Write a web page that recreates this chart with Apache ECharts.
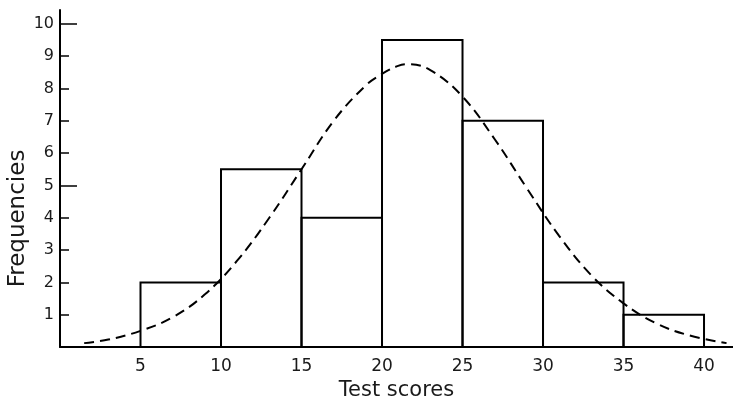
<!DOCTYPE html>
<html>
<head>
<meta charset="utf-8">
<script src="https://cdn.jsdelivr.net/npm/echarts@6/dist/echarts.min.js"></script>
<style>html,body{margin:0;padding:0;background:#fff;}#c{width:733px;height:402px;}</style>
</head>
<body>
<div id="c"></div>
<script>
// Histogram bins (lower edge, upper edge) and frequencies
var binStarts = [5, 10, 15, 20, 25, 30, 35];
var binEnds = [10, 15, 20, 25, 30, 35, 40];
var frequencies = [2, 5.5, 4, 9.5, 7, 2, 1];
// Dashed fitted curve
var curveX = [1.5, 3, 5, 7, 9, 11, 13, 15, 17, 19, 20, 21, 21.6, 23, 25, 27, 29, 31, 33, 35, 37, 39, 41.4];
var curveY = [0.12, 0.23, 0.5, 0.92, 1.63, 2.67, 4.0, 5.5, 7.0, 8.1, 8.45, 8.7, 8.75, 8.57, 7.75, 6.43, 4.91, 3.44, 2.22, 1.35, 0.74, 0.37, 0.12];
var xTicks = [5, 10, 15, 20, 25, 30, 35, 40];
var yTicks = [1, 2, 3, 4, 5, 6, 7, 8, 9, 10];
var yLongTicks = [5, 10];

var font = 'DejaVu Sans';
var chart = echarts.init(document.getElementById('c'));
var barData = binStarts.map(function (s, i) { return [s, binEnds[i], frequencies[i]]; });
var curveData = curveX.map(function (x, i) { return [x, curveY[i]]; });

chart.setOption({
  animation: false,
  backgroundColor: '#fff',
  grid: { left: 60, right: 0, top: 10, bottom: 55, containLabel: false, outerBoundsMode: 'none' },
  xAxis: {
    type: 'value', min: 0, max: 41.8, interval: 5,
    name: 'Test scores', nameLocation: 'middle', nameGap: 33,
    nameTextStyle: { fontFamily: font, fontSize: 21, color: '#1a1a1a' },
    axisLine: { lineStyle: { color: '#000', width: 2 } },
    axisTick: { show: false },
    splitLine: { show: false },
    axisLabel: {
      fontFamily: font, fontSize: 17, color: '#1a1a1a', margin: 11,
      customValues: xTicks
    }
  },
  yAxis: [{
    type: 'value', min: 0, max: 10.43, interval: 1,
    name: 'Frequencies', nameLocation: 'middle', nameGap: 30, nameRotate: 90, nameMoveOverlap: false,
    nameTextStyle: { fontFamily: font, fontSize: 23, color: '#1a1a1a', padding: [0, 80, 0, 0] },
    axisLine: { show: true, lineStyle: { color: '#000', width: 2 } },
    axisTick: { show: true, inside: true, length: 9, customValues: yTicks, lineStyle: { color: '#000', width: 1.5 } },
    splitLine: { show: false },
    axisLabel: {
      fontFamily: font, fontSize: 16, color: '#1a1a1a', margin: 6,
      customValues: yTicks
    }
  }, {
    type: 'value', min: 0, max: 10.43, interval: 1, position: 'left', offset: 0,
    axisLine: { show: false },
    axisTick: { show: true, inside: true, length: 17, customValues: yLongTicks, lineStyle: { color: '#000', width: 1.5 } },
    axisLabel: { show: false },
    splitLine: { show: false }
  }],
  series: [{
    type: 'custom',
    data: barData,
    encode: { x: [0, 1], y: 2 },
    renderItem: function (params, api) {
      var p0 = api.coord([api.value(0), api.value(2)]);
      var p1 = api.coord([api.value(1), 0]);
      return {
        type: 'rect',
        shape: { x: p0[0], y: p0[1], width: p1[0] - p0[0], height: p1[1] - p0[1] },
        style: { fill: 'none', stroke: '#000', lineWidth: 2 }
      };
    },
    z: 2
  }, {
    type: 'line',
    data: curveData,
    smooth: 0.4,
    showSymbol: false,
    lineStyle: { color: '#000', width: 2, type: [10, 6] },
    z: 3
  }]
});
</script>
</body>
</html>
